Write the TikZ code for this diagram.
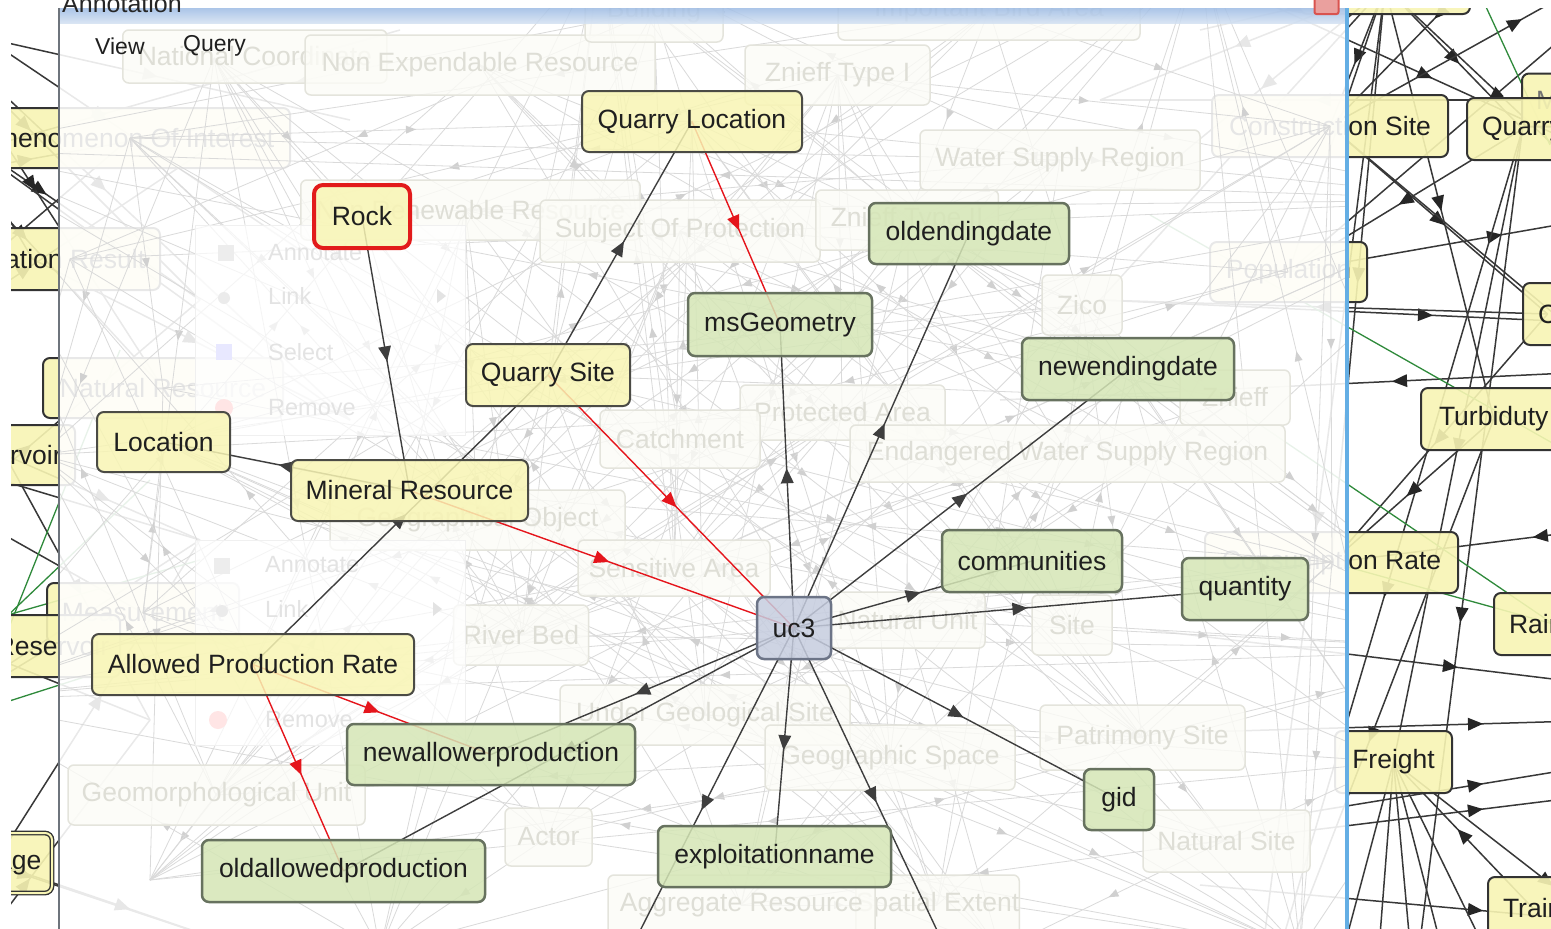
\documentclass[tikz,border=0pt]{standalone}
\usepackage{fontspec}
\setmainfont{Liberation Sans}
\usetikzlibrary{decorations.markings}

\definecolor{nodeyellow}{HTML}{F8F5B4}
\definecolor{nodegreen}{HTML}{D5E6B6}
\definecolor{nodeblue}{HTML}{C6CDDF}
\definecolor{borderdark}{HTML}{4B4B45}
\definecolor{greenborder}{HTML}{67725F}
\definecolor{blueborder}{HTML}{6C7487}
\definecolor{rockred}{HTML}{E21B1B}
\definecolor{edgegrey}{HTML}{3E3E3E}
\definecolor{edgered}{HTML}{E5151C}
\definecolor{linkgreen}{HTML}{2F8A3B}
\definecolor{fadetext}{HTML}{DEDED6}
\definecolor{fadeborder}{HTML}{E4E4DC}
\definecolor{fadefill}{HTML}{FCFCF7}
\definecolor{texture}{HTML}{DADADA}
\definecolor{texturetip}{HTML}{D0D0D0}
\definecolor{ghosttext}{HTML}{E3E3E3}
\definecolor{panelblue}{HTML}{64AEE4}
\definecolor{paneledge}{HTML}{6E747C}
\definecolor{titletop}{HTML}{9DBBE4}
\definecolor{titlebottom}{HTML}{D3E1F2}
\definecolor{closered}{HTML}{D9534F}

\pgfdeclarelayer{stripedges}
\pgfdeclarelayer{stripnodes}
\pgfdeclarelayer{panel}
\pgfdeclarelayer{links}
\pgfsetlayers{stripedges,stripnodes,panel,links,main}

\tikzset{
  txt/.style={font=\fontsize{26.5}{30}\selectfont, text=black!88},
  sz/.style 2 args={minimum width=#1, minimum height=#2},
  base/.style={rectangle, rounded corners=7pt, inner sep=0pt, txt},
  ynode/.style={base, fill=nodeyellow, fill opacity=0.85, text opacity=1, draw=borderdark, line width=2pt},
  gnode/.style={base, fill=nodegreen, fill opacity=0.85, text opacity=1, draw=greenborder, line width=2.5pt},
  unode/.style={base, fill=nodeblue, fill opacity=0.85, text opacity=1, draw=blueborder, line width=2.5pt},
  rocknode/.style={ynode, draw=rockred, line width=4pt, rounded corners=9pt},
  snode/.style={base, fill=nodeyellow, fill opacity=0.9, text opacity=1, draw=black!80, line width=2pt},
  fnode/.style={rectangle, rounded corners=6pt, inner sep=0pt, font=\fontsize{26.5}{30}\selectfont,
    text=fadetext, fill=fadefill, fill opacity=0.8, text opacity=1, draw=fadeborder, line width=1.5pt},
  midtri/.style={postaction={decorate}, decoration={markings, mark=at position 0.5 with
    {\fill[#1] (8pt,0pt) -- (-7pt,6.5pt) -- (-7pt,-6.5pt) -- cycle;}}},
  smalltri/.style={postaction={decorate}, decoration={markings, mark=at position 0.5 with
    {\fill[#1] (5pt,0pt) -- (-5pt,4pt) -- (-5pt,-4pt) -- cycle;}}},
  link/.style={draw=edgegrey, line width=1.4pt, midtri=edgegrey},
  redlink/.style={draw=edgered, line width=1.4pt, midtri=edgered},
  slink/.style={draw=black!78, line width=1.5pt, midtri=black!85},
  sline/.style={draw=black!78, line width=1.5pt},
  glink/.style={draw=linkgreen, line width=1.3pt},
  texlink/.style={draw=texture, line width=0.8pt, smalltri=texturetip},
  menutxt/.style={font=\fontsize{23.5}{28}\selectfont, text=ghosttext, anchor=west, inner sep=0pt},
  ghost/.style={rectangle, anchor=north west, fill=white, fill opacity=0.72, draw=black!6, line width=1pt},
  icon/.style={rectangle, inner sep=0pt, minimum size=16pt},
}

\begin{document}
\begin{tikzpicture}[x=1pt,y=-1pt]
\useasboundingbox (0,0) rectangle (1551,929);

% ---------- outer graph on both sides of the window ----------
\begin{pgfonlayer}{stripnodes}
\begin{scope}
\clip (11,8) rectangle (1551,929);
% right-hand side
\node[snode, sz={170pt}{54pt}] (rtop) at (1385,-13) {};
\node[snode, sz={236pt}{62pt}] (rcons) at (1330,126) {Construction Site};
\node[snode, anchor=west, inner xsep=14pt, minimum height=53pt, text=black!55] (rmore) at (1521,100) {M};
\node[snode, anchor=west, inner xsep=15pt, minimum height=62pt] (rquarry) at (1466,129) {Quarry};
\node[snode, sz={157pt}{60pt}] (rpop) at (1288.5,272) {Population};
\node[snode, anchor=west, inner xsep=15pt, minimum height=62pt] (rc) at (1522,314) {C};
\node[snode, anchor=west, inner xsep=18pt, minimum height=62pt] (rtur) at (1420,419) {Turbiduty};
\node[snode, sz={253pt}{61pt}] (rcr) at (1331.5,562.5) {Consumption Rate};
\node[snode, anchor=west, inner xsep=15pt, minimum height=62pt] (rrain) at (1493,624) {Rainfall};
\node[snode, sz={117pt}{62pt}] (rfreight) at (1393.5,762) {Freight};
\node[snode, anchor=west, inner xsep=15pt, minimum height=62pt] (rtrain) at (1487,908) {Train};
% left-hand side
\node[snode, sz={320pt}{60pt}] (lphen) at (130,138) {Phenomenon Of Interest};
\node[snode, sz={255pt}{62pt}] (lobs) at (32.5,259) {Observation Result};
\node[snode, sz={240pt}{60pt}] (lnat) at (163,388) {Natural Resource};
\node[snode, sz={140pt}{60pt}] (lres) at (5,455) {Reservoir};
\node[snode, sz={192pt}{60pt}] (lmeas) at (143,613) {Measurement};
\node[snode, sz={135pt}{62pt}] (lres2) at (52.5,646) {Reservoir};
\node[snode, sz={114pt}{60pt}, double=nodeyellow, double distance=2pt, line width=1.4pt] (lstore) at (-5,863) {Storage};
\end{scope}
\end{pgfonlayer}

\begin{pgfonlayer}{stripedges}
\fill[white] (0,0) rectangle (1551,929);
\begin{scope}
\clip (11,8) rectangle (1551,929);
% hidden ends on the right
\coordinate (hr1) at (1700,-80);  \coordinate (hr2) at (1700,200);
\coordinate (hr3) at (1750,330);  \coordinate (hr4) at (1800,362);
\coordinate (hr5) at (1000,400);  \coordinate (hr6) at (1150,-50);
\coordinate (hr7) at (1100,300);  \coordinate (hr8) at (1800,520);
\coordinate (hr9) at (1750,510);  \coordinate (hr10) at (1150,630);
\coordinate (hr11) at (1750,703); \coordinate (hr12) at (1200,732);
\coordinate (hr13) at (1750,716); \coordinate (hr14) at (1200,830);
\coordinate (hr15) at (1750,740); \coordinate (hr16) at (1150,850);
\coordinate (hr17) at (1800,770); \coordinate (hr18) at (1700,1000);
\coordinate (hr19) at (1200,885); \coordinate (hr20) at (1750,935);
\coordinate (hr21) at (1250,1050);\coordinate (hr22) at (1400,1100);
\coordinate (hr23) at (1550,-100);\coordinate (hr24) at (1100,100);
\coordinate (hr25) at (1200,30);  \coordinate (hr26) at (1150,180);
\coordinate (hb1) at (1330,1000); \coordinate (hb2) at (1375,1000);
\coordinate (hb3) at (1415,1000); \coordinate (hb4) at (1455,1000);
\coordinate (hb5) at (1510,1000);
\coordinate (hg1) at (1455,-60);  \coordinate (hg2) at (1550,145);
\coordinate (hg3) at (1150,215);  \coordinate (hg4) at (1750,555);
\coordinate (hg5) at (1150,350);
% right links
\draw[slink] (rtop.center) -- (rcons.center);
\draw[slink] (rtop.center) -- (hr7);
\draw[slink] (rtop.center) -- (rpop.center);
\draw[slink] (rtop.center) -- (rtur.center);
\draw[slink] (rtop.center) -- (rquarry.center);
\draw[slink] (rtop.center) -- (hr3);
\draw[slink] (rtop.center) -- (rcr.center);
\draw[slink] (rtop.center) -- (hr21);
\draw[slink] (rtop.center) -- (hr24);
\draw[slink] (rtop.center) -- (hr25);
\draw[slink] (rtop.center) -- (hr26);
\draw[slink] (hr6) -- (hr2);
\draw[slink] (rcons.center) -- (hr1);
\draw[slink] (rcons.center) -- (rc.center);
\draw[slink] (rcons.center) -- (hr8);
\draw[slink] (rpop.center) -- (hr2);
\draw[slink] (rquarry.center) -- (hr22);
\draw[slink] (rquarry.center) -- (hr21);
\draw[slink] (rquarry.center) -- (rfreight.center);
\draw[slink] (hr7) -- (hr3);
\draw[slink] (hr4) -- (hr5);
\draw[slink] (rtur.center) -- (rcr.center);
\draw[slink] (rtur.center) -- (hr21);
\draw[slink] (hr10) -- (hr11);
\draw[slink] (hr12) -- (hr13);
\draw[slink] (hr9) -- (rcr.center);
\draw[slink] (hr14) -- (hr15);
\draw[slink] (hr16) -- (hr17);
\draw[slink] (rtrain.center) -- (rfreight.center);
\draw[slink] (rfreight.center) -- (hr18);
\draw[slink] (hr19) -- (hr20);
\draw[slink] (hr23) -- (rcons.center);
\draw[slink] (hr1) -- (rpop.center);
\draw[slink] (rquarry.center) -- (rpop.center);
\draw[slink] (rc.center) -- (hr7);
\draw[slink] (rc.center) -- (rcr.center);
\draw[slink] (rmore.center) -- (hr24);
\foreach \b in {hb1,hb2,hb3,hb4,hb5} \draw[sline] (rfreight.center) -- (\b);
\draw[glink] (hg1) -- (hg2);
\draw[glink] (hg3) -- (hg4);
\draw[glink] (hg5) -- (rrain.center);
\draw[glink] (rcr.center) -- (rrain.center);
% hidden ends on the left
\coordinate (hl1) at (-150,-50); \coordinate (hl2) at (-200,200);
\coordinate (hl3) at (-200,420); \coordinate (hl4) at (-150,600);
\coordinate (hl5) at (-200,800); \coordinate (hl6) at (-100,1050);
\coordinate (hl7) at (-100,-20); \coordinate (hl8) at (-50,30);
\coordinate (hp1) at (250,120);  \coordinate (hp2) at (200,300);
\coordinate (hp3) at (350,420);  \coordinate (hp4) at (200,540);
\coordinate (hp5) at (150,720);  \coordinate (hp6) at (250,950);
\coordinate (hp7) at (400,30);   \coordinate (hp8) at (-120,80);
\coordinate (hp9) at (300,250);  \coordinate (hp10) at (350,120);
\coordinate (hlg1) at (-20,700); \coordinate (hlg2) at (120,350);
\coordinate (hlg3) at (-60,680); \coordinate (hlg4) at (150,480);
\coordinate (hlg5) at (-80,640); \coordinate (hlg6) at (200,560);
\coordinate (hlg7) at (-50,720); \coordinate (hlg8) at (200,640);
% left links
\draw[slink] (hl1) -- (hp2);
\draw[slink] (hl1) -- (lobs.center);
\draw[slink] (hl1) -- (hp3);
\draw[slink] (hl2) -- (hp1);
\draw[slink] (hl2) -- (hp7);
\draw[slink] (lphen.center) -- (hl3);
\draw[slink] (lobs.center) -- (hp3);
\draw[slink] (hl3) -- (hp1);
\draw[slink] (lres.center) -- (hp4);
\draw[slink] (lres.center) -- (hp5);
\draw[slink] (hl4) -- (hp2);
\draw[slink] (lmeas.center) -- (hl3);
\draw[slink] (hl5) -- (hp4);
\draw[slink] (hl5) -- (hp6);
\draw[slink] (hl6) -- (hp5);
\draw[slink] (lstore.center) -- (hp4);
\draw[slink] (lstore.center) -- (hp6);
\draw[slink] (hl4) -- (hp5);
\draw[slink] (hl2) -- (lres.center);
\draw[slink] (hl3) -- (hp4);
\draw[slink] (hl5) -- (lres2.center);
\draw[slink] (hp8) -- (hp2);
\draw[slink] (hp8) -- (lnat.center);
\draw[slink] (hp8) -- (hp3);
\draw[slink] (hl7) -- (hp9);
\draw[slink] (hl7) -- (lnat.center);
\draw[slink] (hl8) -- (hp10);
\draw[glink] (hlg1) -- (hlg2);
\draw[glink] (hlg3) -- (hlg4);
\draw[glink] (hlg5) -- (hlg6);
\draw[glink] (hlg7) -- (hlg8);
\end{scope}
\end{pgfonlayer}

% ---------- the annotation window ----------
\begin{pgfonlayer}{panel}
\fill[white, opacity=0.89] (59,8) rectangle (1346,929);
\begin{scope}
\clip (59,8) rectangle (1346,929);
% faint background graph
\foreach \px/\py [count=\k] in {214/58,480/65,654/11,989/10,838/75,1060/160,465/210,
  680/231,908/220,1082/305,842/412,680/439,1235/400,1067/453,477/520,674/568,
  907/620,1072/625,522/635,705/715,890/757,1142/737,216/795,548/837,1226/840,
  741/905,937/905,130/138,70/259,163/388,143/613,1288/272,1330/126,1332/562,
  1395/762,150/880,1000/950,1300/950,380/950,40/455,692/121,548/375,410/490,
  163/442,253/664,362/216,1128/369,1500/200,1500/650,-50/700,-50/150,600/-50,1200/-50}
  {\coordinate (t\k) at (\px,\py);}
\pgfmathsetseed{11}
\foreach \i in {1,...,53}{
  \foreach \j in {1,...,53}{
    \ifnum\i<\j\relax
      \pgfmathrandominteger{\rnd}{0}{99}
      \ifnum\rnd<18\relax \draw[texlink] (t\i) -- (t\j); \fi
    \fi
  }
}
% faded concept boxes
\node[fnode, anchor=west, inner xsep=15pt, minimum height=53pt] (fcoord) at (122,56.5) {National Coordinate};
\node[fnode, sz={350pt}{60pt}] (fnonexp) at (480,65) {Non Expendable Resource};
\node[fnode, sz={138pt}{62pt}] (fbuild) at (654,11) {Building};
\node[fnode, sz={302pt}{60pt}] (fbird) at (989,10) {Important Bird Area};
\node[fnode, sz={185pt}{60pt}] (fzn1) at (837.5,75) {Znieff Type I};
\node[fnode, sz={280pt}{60pt}] (fwater) at (1060,160) {Water Supply Region};
\node[fnode, anchor=west, inner xsep=15pt, minimum height=60pt] (fnonren) at (300,210) {Non Renewable Resource};
\node[fnode, sz={280pt}{62pt}] (fsubj) at (680,231) {Subject Of Protection};
\node[fnode, anchor=west, inner xsep=15pt, minimum height=60pt] (fzn2) at (815,220) {Znieff Type II};
\node[fnode, sz={80pt}{60pt}] (fzico) at (1082,305) {Zico};
\node[fnode, sz={205pt}{55pt}] (fprot) at (842.5,412.5) {Protected Area};
\node[fnode, sz={160pt}{58pt}] (fcatch) at (680,439) {Catchment};
\node[fnode, sz={110pt}{55pt}] (fzn3) at (1235,397.5) {Znieff};
\node[fnode, sz={435pt}{57pt}] (fendw) at (1067.5,453.5) {Endangered Water Supply Region};
\node[fnode, sz={295pt}{60pt}] (fgeoobj) at (477.5,520) {Geographical Object};
\node[fnode, sz={192pt}{56pt}] (fsens) at (674,568) {Sensitive Area};
\node[fnode, sz={155pt}{56pt}] (fnatu) at (907.5,620) {Natural Unit};
\node[fnode, sz={80pt}{60pt}] (fsite) at (1072,625) {Site};
\node[fnode, sz={135pt}{60pt}] (friver) at (521,635) {River Bed};
\node[fnode, sz={290pt}{60pt}] (fundgeo) at (705,715) {Under Geological Site};
\node[fnode, sz={250pt}{65pt}] (fgeosp) at (890,757.5) {Geographic Space};
\node[fnode, sz={205pt}{65pt}] (fpatr) at (1142.5,737.5) {Patrimony Site};
\node[fnode, sz={297pt}{60pt}] (fgeom) at (216.5,795) {Geomorphological Unit};
\node[fnode, sz={87pt}{58pt}] (factor) at (548.5,837) {Actor};
\node[fnode, sz={167pt}{62pt}] (fnats) at (1226.5,841) {Natural Site};
\node[fnode, sz={135pt}{60pt}] (fspat) at (937.5,905) {Spatial Extent};
\node[fnode, sz={267pt}{60pt}] (faggr) at (741.5,905) {Aggregate Resource};
% ghosted context menus
\node[ghost, minimum width=270pt, minimum height=210pt] (menua) at (195,225) {};
\node[icon, fill=black!7] (ia1) at (226,253) {};
\node[menutxt] (ma1) at (268,253) {Annotate};
\node[icon, circle, minimum size=12pt, fill=black!8] (ia2) at (224,298) {};
\node[menutxt] (ma2) at (268,296) {Link};
\node[icon, fill=blue!9] (ia3) at (224,352) {};
\node[menutxt] (ma3) at (268,352) {Select};
\node[icon, circle, minimum size=18pt, fill=red!10] (ia4) at (224,408) {};
\node[menutxt] (ma4) at (268,408) {Remove};
\fill[ghosttext] (437,289) -- (446,296) -- (437,303) -- cycle;
\node[ghost, minimum width=270pt, minimum height=205pt] (menub) at (195,540) {};
\node[icon, fill=black!7] (ib1) at (222,566) {};
\node[menutxt] (mb1) at (265,565) {Annotate};
\node[icon, circle, minimum size=12pt, fill=black!8] (ib2) at (222,611) {};
\node[menutxt] (mb2) at (265,609) {Link};
\node[icon, circle, minimum size=18pt, fill=red!10] (ib4) at (218,720) {};
\node[menutxt] (mb4) at (265,720) {Remove};
\fill[ghosttext] (433,602) -- (442,609) -- (433,616) -- cycle;
% title bar and menu bar
\shade[top color=titletop, bottom color=titlebottom, opacity=0.85] (59,8) rectangle (1346,23);
\node[anchor=west, inner sep=0pt, font=\fontsize{23}{28}\selectfont, text=black!88] (mview) at (95,46) {View};
\node[anchor=west, inner sep=0pt, font=\fontsize{23}{28}\selectfont, text=black!88] (mquery) at (183,46) {Query};
\end{scope}
% window frame
\draw[paneledge, line width=2pt] (58.5,8) -- (58.5,929);
\draw[panelblue, line width=3.5pt] (1347,8) -- (1347,929);
\end{pgfonlayer}

\node[anchor=base west, inner sep=0pt, font=\fontsize{25}{30}\selectfont, text=black!85] (wtitle) at (62,12) {Annotation};
\node[rectangle, rounded corners=2pt, fill=closered!55, draw=closered, line width=2pt,
      minimum width=24pt, minimum height=16pt, inner sep=0pt] (wclose) at (1326.5,6) {};

% ---------- highlighted concepts ----------
\node[rocknode, sz={96pt}{63pt}] (rock) at (362,216.5) {Rock};
\node[ynode, sz={220pt}{61pt}] (qloc) at (692,121.5) {Quarry Location};
\node[gnode, sz={200pt}{61pt}] (oldend) at (969,233.5) {oldendingdate};
\node[gnode, sz={184pt}{63pt}] (msgeo) at (780,324.5) {msGeometry};
\node[gnode, sz={212pt}{62pt}] (newend) at (1128,369) {newendingdate};
\node[ynode, sz={164pt}{62pt}] (qsite) at (548,375) {Quarry Site};
\node[ynode, sz={133pt}{60pt}] (loc) at (163.5,442) {Location};
\node[ynode, sz={237pt}{61pt}] (minres) at (409.5,490.5) {Mineral Resource};
\node[gnode, sz={180pt}{62pt}] (comm) at (1032,561) {communities};
\node[gnode, sz={126pt}{62pt}] (quant) at (1245,589) {quantity};
\node[unode, sz={74pt}{62pt}] (uc3) at (794,628) {uc3};
\node[ynode, sz={322pt}{61pt}] (apr) at (253,664.5) {Allowed Production Rate};
\node[gnode, sz={288pt}{61pt}] (newallow) at (491,754.5) {newallowerproduction};
\node[gnode, sz={283pt}{62pt}] (oldallow) at (343.5,871) {oldallowedproduction};
\node[gnode, sz={233pt}{61pt}] (expl) at (774.5,856.5) {exploitationname};
\node[gnode, sz={70pt}{61pt}] (gid) at (1119,799.5) {gid};
\coordinate (downleft) at (616,978);
\coordinate (downright) at (952,962);

\begin{pgfonlayer}{links}
\draw[link] (rock.center) -- (minres.center);
\draw[link] (minres.center) -- (loc.center);
\draw[link] (qsite.center) -- (qloc.center);
\draw[link] (apr.center) -- (qsite.center);
\draw[redlink] (qloc.center) -- (msgeo.center);
\draw[redlink] (qsite.center) -- (uc3.center);
\draw[redlink] (minres.center) -- (uc3.center);
\draw[redlink] (apr.center) -- (newallow.center);
\draw[redlink] (apr.center) -- (oldallow.center);
\draw[link] (uc3.center) -- (msgeo.center);
\draw[link] (uc3.center) -- (oldend.center);
\draw[link] (uc3.center) -- (newend.center);
\draw[link] (uc3.center) -- (comm.center);
\draw[link] (uc3.center) -- (quant.center);
\draw[link] (uc3.center) -- (gid.center);
\draw[link] (uc3.center) -- (expl.center);
\draw[link] (uc3.center) -- (newallow.center);
\draw[link] (uc3.center) -- (oldallow.center);
\draw[link] (uc3.center) -- (downleft);
\draw[link] (uc3.center) -- (downright);
\end{pgfonlayer}
\end{tikzpicture}
\end{document}
